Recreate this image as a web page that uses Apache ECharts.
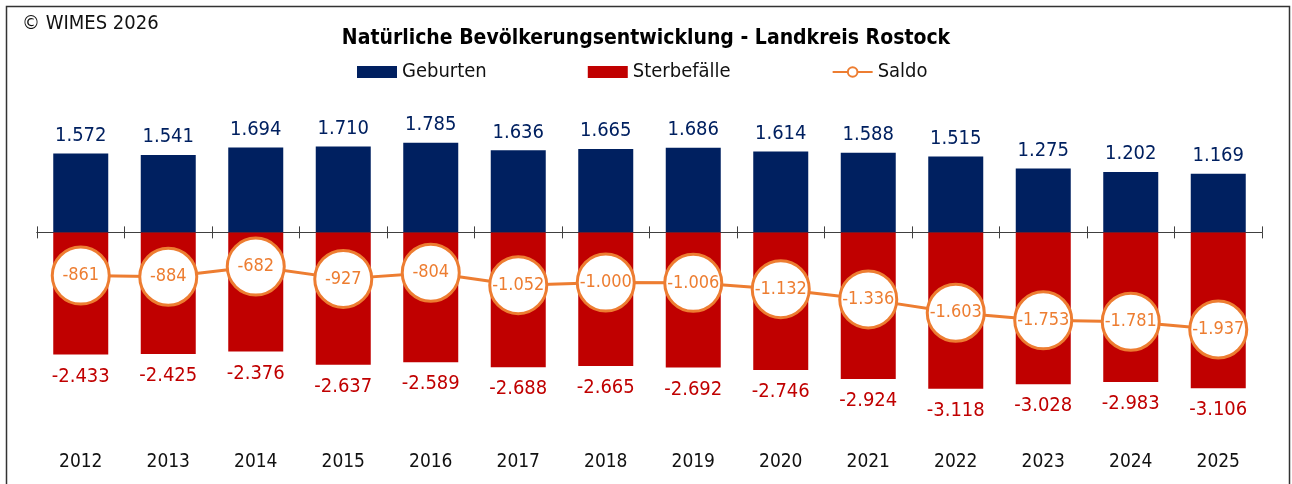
<!DOCTYPE html>
<html>
<head>
<meta charset="utf-8">
<script src="https://cdn.jsdelivr.net/npm/echarts@6/dist/echarts.min.js"></script>
<style>
  html, body { margin: 0; padding: 0; background: #fff; }
  #chart { width: 1292px; height: 484px; }
</style>
</head>
<body>
<div id="chart"></div>
<script>
var years = ["2012", "2013", "2014", "2015", "2016", "2017", "2018", "2019", "2020", "2021", "2022", "2023", "2024", "2025"];
var geburten = [1572, 1541, 1694, 1710, 1785, 1636, 1665, 1686, 1614, 1588, 1515, 1275, 1202, 1169];
var sterbefaelle = [-2433, -2425, -2376, -2637, -2589, -2688, -2665, -2692, -2746, -2924, -3118, -3028, -2983, -3106];
var saldo = [-861, -884, -682, -927, -804, -1052, -1000, -1006, -1132, -1336, -1603, -1753, -1781, -1937];

var font = 'Tahoma, "DejaVu Sans Condensed", "DejaVu Sans", sans-serif';

// deutsche Tausendertrennung
function fmt(v) {
  var s = String(Math.abs(v)).replace(/\B(?=(\d{3})+(?!\d))/g, ".");
  return (v < 0 ? "-" : "") + s;
}

var myChart = echarts.init(document.getElementById("chart"));

var tickAxis = function(pos, yIdx) {
  return {
    type: "category",
    data: years,
    position: pos,
    axisLine: { show: true, onZero: true, onZeroAxisIndex: yIdx, lineStyle: { color: "#404040", width: 1 } },
    axisTick: { show: true, length: 6, lineStyle: { color: "#404040" } },
    axisLabel: { show: false },
    splitLine: { show: false }
  };
};

var option = {
  animation: false,
  backgroundColor: "#fff",
  textStyle: { fontFamily: font },
  title: {
    text: "Natürliche Bevölkerungsentwicklung - Landkreis Rostock",
    left: "center",
    top: 28,
    padding: 0,
    textStyle: { fontFamily: font, fontSize: 21, fontWeight: "bold", color: "#000" }
  },
  graphic: [
    {
      type: "rect",
      shape: { x: 6.5, y: 6.5, width: 1283, height: 500 },
      style: { fill: "none", stroke: "#333", lineWidth: 1.5 }
    },
    {
      type: "text",
      left: 22,
      top: 14,
      style: { text: "© WIMES 2026", font: "20px " + font, fill: "#111" }
    }
  ],
  legend: {
    left: 357,
    top: 62,
    padding: 0,
    itemWidth: 40,
    itemHeight: 12,
    itemGap: 101,
    textStyle: { fontFamily: font, fontSize: 20, color: "#111" },
    data: [
      { name: "Geburten", icon: "rect" },
      { name: "Sterbefälle", icon: "rect" },
      { name: "Saldo" }
    ]
  },
  grid: { left: 37, right: 30, top: 107, bottom: 51, outerBoundsMode: "none", containLabel: false },
  xAxis: [
    {
      type: "category",
      data: years,
      position: "bottom",
      axisLine: { show: false, onZero: false },
      axisTick: { show: false },
      axisLabel: { margin: 20, fontFamily: font, fontSize: 19, color: "#111" }
    },
    tickAxis("bottom", 0),
    tickAxis("top", 1)
  ],
  yAxis: [
    { type: "value", min: -4000, max: 2500, show: false, splitLine: { show: false } },
    { type: "value", min: -4000, max: 2500, show: false, splitLine: { show: false } }
  ],
  series: [
    {
      name: "Geburten",
      type: "bar",
      barWidth: 55,
      barGap: "-100%",
      itemStyle: { color: "#002060" },
      label: {
        show: true,
        position: "top",
        distance: 8,
        fontFamily: font,
        fontSize: 20,
        color: "#002060",
        formatter: function(p) { return fmt(p.value); }
      },
      data: geburten
    },
    {
      name: "Sterbefälle",
      type: "bar",
      barWidth: 55,
      barGap: "-100%",
      itemStyle: { color: "#C00000" },
      label: {
        show: true,
        position: "bottom",
        distance: 12,
        fontFamily: font,
        fontSize: 20,
        color: "#C00000",
        formatter: function(p) { return fmt(p.value); }
      },
      data: sterbefaelle
    },
    {
      name: "Saldo",
      type: "line",
      symbol: "circle",
      symbolSize: 57,
      lineStyle: { color: "#ED7D31", width: 3 },
      itemStyle: { color: "#fff", borderColor: "#ED7D31", borderWidth: 3 },
      label: {
        show: true,
        position: "inside",
        fontFamily: font,
        fontSize: 18,
        color: "#ED7D31",
        formatter: function(p) { return fmt(p.value); }
      },
      z: 5,
      data: saldo
    }
  ]
};

myChart.setOption(option);
window.addEventListener("resize", function() {
  myChart.resize();
});
</script>
</body>
</html>
